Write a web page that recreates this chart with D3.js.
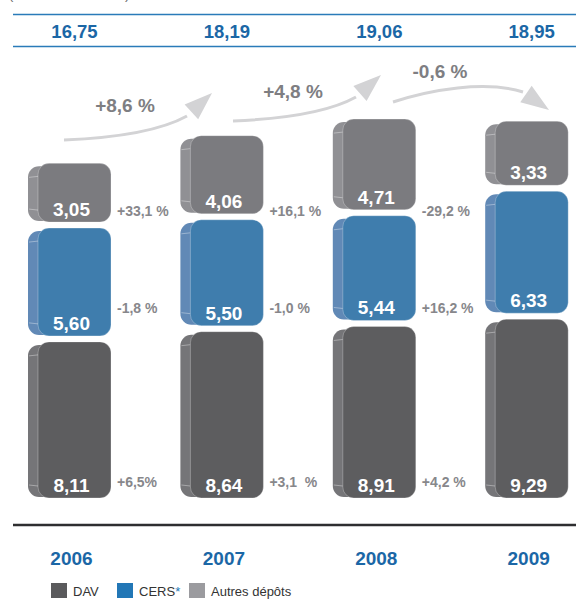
<!DOCTYPE html>
<html>
<head>
<meta charset="utf-8">
<title>Dépôts</title>
<script src="https://cdn.jsdelivr.net/npm/d3@7"></script>
<style>
  body { margin: 0; background: #fff; }
  svg text { font-family: "Liberation Sans", Arial, sans-serif; }
  .total { font-weight: bold; fill: #1b67a6; font-size: 18.5px; }
  .year { font-weight: bold; fill: #1b67a6; font-size: 19px; }
  .val { font-weight: bold; fill: #fff; font-size: 19px; }
  .chg { font-weight: bold; fill: #87878b; font-size: 14px; white-space: pre; }
  .arrowlbl { font-weight: bold; fill: #7e7e82; font-size: 19px; }
  .leg { fill: #333; font-size: 13px; }
</style>
</head>
<body>
<svg id="chart" width="576" height="599"></svg>
<script>
// values (milliards d'euros)
var years = ["2006", "2007", "2008", "2009"]
var dav = [8.11, 8.64, 8.91, 9.29]
var cers = [5.60, 5.50, 5.44, 6.33]
var autres = [3.05, 4.06, 4.71, 3.33]
var totals = [16.75, 18.19, 19.06, 18.95]

// year on year changes, shown between columns
var davChg = ["+6,5%", "+3,1  %", "+4,2 %"]
var cersChg = ["-1,8 %", "-1,0 %", "+16,2 %"]
var autresChg = ["+33,1 %", "+16,1 %", "-29,2 %"]
var totalChg = ["+8,6 %", "+4,8 %", "-0,6 %"]

var seriesNames = ["DAV", "CERS*", "Autres dépôts"]

var svg = d3.select("#chart")
var W = 576, H = 599
var base = 498, gap = 6

var fr = d3.formatLocale({decimal: ",", thousands: " ", grouping: [3], currency: ["", " €"]})
var fmt = fr.format(".2f")

var x = d3.scaleBand().domain(years).range([28, 568.2]).paddingInner(0.4554).paddingOuter(0)
var y = d3.scaleLinear().domain([0, 20]).range([base, base - 20 * 19.25])

var rows = years.map((yr, i) => ({year: yr, DAV: dav[i], CERS: cers[i], Autres: autres[i]}))
var keys = ["DAV", "CERS", "Autres"]
var stack = d3.stack().keys(keys)(rows)

var colors = {
  DAV: {front: "#5d5d5f", side: "#757578", legend: "#5a5a5c"},
  CERS: {front: "#3f7dad", side: "#6189b6", legend: "#2277b6"},
  Autres: {front: "#7b7b7f", side: "#909094", legend: "#9b9b9f"}
}
var side = 10

// header
svg.append("text").attr("x", 9).attr("y", -1.5).attr("class", "leg")
  .style("fill", "#666").text("(en milliards d'euros)")
svg.append("line").attr("x1", 13).attr("x2", W).attr("y1", 14.5).attr("y2", 14.5)
  .attr("stroke", "#2a7bb9").attr("stroke-width", 1.5)
svg.append("line").attr("x1", 13).attr("x2", W).attr("y1", 46.5).attr("y2", 46.5)
  .attr("stroke", "#2a7bb9").attr("stroke-width", 1.5)

var frontCx = d => x(d) + side + (x.bandwidth() - side) / 2

svg.selectAll(".total").data(totals).join("text")
  .attr("class", "total")
  .attr("x", (d, i) => frontCx(years[i]))
  .attr("y", 38)
  .attr("text-anchor", "middle")
  .text(d => fmt(d))

// stacked blocks
stack.forEach((s, k) => {
  var c = colors[s.key]
  var g = svg.append("g").attr("class", "serie-" + s.key)
  s.forEach((d, i) => {
    var x0 = x(years[i]), x1 = x0 + x.bandwidth()
    var yb = y(d[0]) - k * gap, yt = y(d[1]) - k * gap
    var blk = g.append("g")
    blk.append("rect")
      .attr("x", x0).attr("y", yt + 3)
      .attr("width", x1 - x0 - 4).attr("height", yb - yt - 4)
      .attr("rx", 11).attr("fill", c.side)
    blk.append("line")
      .attr("x1", x0 + 1).attr("x2", x0 + side).attr("y1", yt + 14).attr("y2", yt + 13)
      .attr("stroke", "#fff").attr("stroke-opacity", 0.45).attr("stroke-width", 0.8)
    blk.append("line")
      .attr("x1", x0 + 1).attr("x2", x0 + side).attr("y1", yb - 13).attr("y2", yb - 12)
      .attr("stroke", "#fff").attr("stroke-opacity", 0.45).attr("stroke-width", 0.8)
    blk.append("rect")
      .attr("x", x0 + side).attr("y", yt)
      .attr("width", x1 - x0 - side).attr("height", yb - yt)
      .attr("rx", 11).attr("fill", c.front)
      .attr("stroke", "#fff").attr("stroke-opacity", 0.35).attr("stroke-width", 0.8)
    blk.append("text")
      .attr("class", "val")
      .attr("x", frontCx(years[i]) - 3)
      .attr("y", yb - 6)
      .attr("text-anchor", "middle")
      .text(fmt(d.data[s.key]))
  })
})

// change labels between columns
var chgRows = [
  {vals: davChg, y: 487},
  {vals: cersChg, y: 313},
  {vals: autresChg, y: 216}
]
chgRows.forEach(r => {
  svg.selectAll(null).data(r.vals).join("text")
    .attr("class", "chg")
    .attr("x", (d, i) => x(years[i]) + x.bandwidth() + 6)
    .attr("y", r.y)
    .text(d => d)
})

// total growth arrows
var arrowShapes = [
  {p: [[64, 140], [112, 138], [160, 131], [187, 116]], tip: [212, 93], lbl: [125, 112]},
  {p: [[233, 121], [281, 119], [329, 112], [356, 97]], tip: [381, 75], lbl: [293, 98]},
  {p: [[393, 102], [430, 90], [485, 80], [523, 92]], tip: [549, 110], lbl: [440, 78]}
]
arrowShapes.forEach((a, i) => {
  var pth = d3.path()
  pth.moveTo(a.p[0][0], a.p[0][1])
  pth.bezierCurveTo(a.p[1][0], a.p[1][1], a.p[2][0], a.p[2][1], a.p[3][0], a.p[3][1])
  svg.append("path").attr("d", pth.toString())
    .attr("fill", "none").attr("stroke", "#d3d3d5").attr("stroke-width", 3)
  var bx = a.p[3][0], by = a.p[3][1]
  var dx = a.tip[0] - bx, dy = a.tip[1] - by
  var len = Math.hypot(dx, dy), ux = dx / len, uy = dy / len
  var hw = 10
  var bcx = a.tip[0] - ux * 28, bcy = a.tip[1] - uy * 28
  svg.append("path")
    .attr("d", "M" + a.tip + "L" + [bcx - uy * hw, bcy + ux * hw] + "L" + [bcx + uy * hw, bcy - ux * hw] + "Z")
    .attr("fill", "#d3d3d5")
  svg.append("text").attr("class", "arrowlbl")
    .attr("x", a.lbl[0]).attr("y", a.lbl[1])
    .attr("text-anchor", "middle")
    .text(totalChg[i])
})

// baseline + years
svg.append("line").attr("x1", 13).attr("x2", W).attr("y1", 525).attr("y2", 525)
  .attr("stroke", "#2e2e30").attr("stroke-width", 2.5)

svg.selectAll(".year").data(years).join("text")
  .attr("class", "year")
  .attr("x", d => frontCx(d) - 3)
  .attr("y", 565)
  .attr("text-anchor", "middle")
  .text(d => d)

// legend
var legX = [51, 117, 189]
var leg = svg.selectAll(".legitem").data(keys).join("g")
  .attr("class", "legitem")
  .attr("transform", (d, i) => "translate(" + legX[i] + ",583)")
leg.append("rect").attr("width", 16).attr("height", 15)
  .attr("fill", d => colors[d].legend)
leg.append("text").attr("class", "leg")
  .attr("x", 22).attr("y", 13)
  .each(function(d, i) {
    var t = d3.select(this)
    if (d === "CERS") {
      t.text("CERS")
      t.append("tspan").attr("fill", "#2277b6").text("*")
    } else {
      t.text(seriesNames[i])
    }
  })
</script>
</body>
</html>
